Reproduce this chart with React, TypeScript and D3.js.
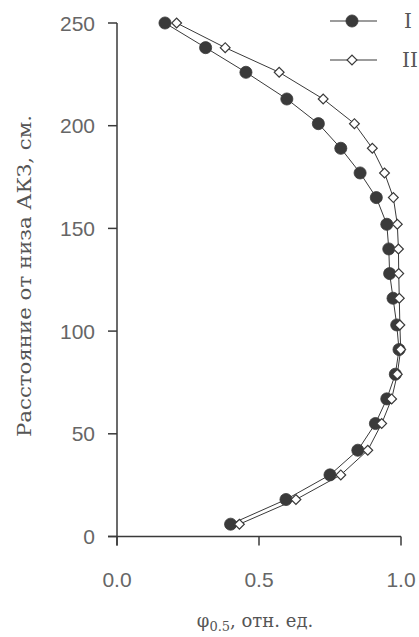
import React from "react";
import * as d3 from "d3";

const heights = [6, 18, 30, 42, 55, 67, 79, 91, 103, 116, 128, 140, 152, 165, 177, 189, 201, 213, 226, 238, 250];
const seriesI = [0.4, 0.595, 0.75, 0.848, 0.91, 0.95, 0.98, 0.993, 0.985, 0.972, 0.96, 0.957, 0.95, 0.913, 0.856, 0.788, 0.709, 0.598, 0.454, 0.312, 0.169];
const seriesII = [0.431, 0.63, 0.788, 0.883, 0.932, 0.967, 0.987, 0.999, 0.996, 0.994, 0.992, 0.991, 0.987, 0.973, 0.942, 0.899, 0.836, 0.726, 0.571, 0.381, 0.21];
const xTicks = [0, 0.5, 1.0];
const yTicks = [0, 50, 100, 150, 200, 250];
const legendLabels = ["I", "II"];
const yTitle = "Расстояние от низа АКЗ, см.";

const W = 419;
const H = 637;
const ink = "#3a3a3a";
const tickFont = "'Liberation Sans', Arial, sans-serif";
const titleFont = "'DejaVu Serif', 'Liberation Serif', serif";

export default function App() {
  const x = d3.scaleLinear().domain([0, 1]).range([117, 401]);
  const y = d3.scaleLinear().domain([0, 250]).range([536.5, 23]);
  const line = d3
    .line<[number, number]>()
    .x((d) => x(d[0]))
    .y((d) => y(d[1]));
  const dI: [number, number][] = seriesI.map((v, i) => [v, heights[i]]);
  const dII: [number, number][] = seriesII.map((v, i) => [v, heights[i]]);
  const circle = d3.symbol().type(d3.symbolCircle).size(115)() as string;
  const square = d3.symbol().type(d3.symbolSquare).size(48)() as string;

  const markerI = (cx: number, cy: number, k: string) => (
    <path key={k} d={circle} transform={`translate(${cx},${cy})`} fill={ink} stroke={ink} strokeWidth={0.8} />
  );
  const markerII = (cx: number, cy: number, k: string) => (
    <path key={k} d={square} transform={`translate(${cx},${cy}) rotate(45)`} fill="#fff" stroke={ink} strokeWidth={1.2} />
  );

  const legendY = [21, 60];

  return (
    <svg
      width={W}
      height={H}
      style={{ position: "fixed", left: 0, top: 0, background: "#fff" }}
      xmlns="http://www.w3.org/2000/svg"
    >
      <rect x={0} y={0} width={W} height={H} fill="#fff" />
      <line x1={x(0)} x2={x(0)} y1={y(250)} y2={y(0) + 9} stroke={ink} strokeWidth={1.5} />
      <line x1={x(0) - 9} x2={x(1)} y1={y(0)} y2={y(0)} stroke={ink} strokeWidth={1.5} />
      {yTicks.map((t) => (
        <g key={"y" + t}>
          <line x1={x(0) - 9} x2={x(0)} y1={y(t)} y2={y(t)} stroke={ink} strokeWidth={1.5} />
          <text x={95} y={y(t)} dy="0.36em" textAnchor="end" fontFamily={tickFont} fontSize={21} fill="#666">
            {t}
          </text>
        </g>
      ))}
      {xTicks.map((t) => (
        <g key={"x" + t}>
          <line x1={x(t)} x2={x(t)} y1={y(0)} y2={y(0) + 9} stroke={ink} strokeWidth={1.5} />
          <text x={x(t)} y={587} textAnchor="middle" fontFamily={tickFont} fontSize={21} fill="#666">
            {d3.format(".1f")(t)}
          </text>
        </g>
      ))}
      <text
        transform={`translate(31,276) rotate(-90)`}
        textAnchor="middle"
        fontFamily={titleFont}
        fontSize={19}
        fill="#555"
        textLength={322}
        lengthAdjust="spacingAndGlyphs"
      >
        {yTitle}
      </text>
      <text x={255} y={627} textAnchor="middle" fontFamily={titleFont} fontSize={18} fill="#555">
        <tspan>φ</tspan>
        <tspan fontSize={13} dy={4}>0.5</tspan>
        <tspan dy={-4}>, отн. ед.</tspan>
      </text>
      <path d={line(dII) as string} fill="none" stroke={ink} strokeWidth={1} />
      <path d={line(dI) as string} fill="none" stroke={ink} strokeWidth={1} />
      {dI.map((d, i) => markerI(x(d[0]), y(d[1]), "i" + i))}
      {dII.map((d, i) => markerII(x(d[0]), y(d[1]), "ii" + i))}
      {legendLabels.map((lab, i) => (
        <g key={lab}>
          <line x1={330} x2={377} y1={legendY[i]} y2={legendY[i]} stroke={ink} strokeWidth={1.2} />
          {i === 0 ? markerI(352, legendY[i], "lm" + i) : markerII(352, legendY[i], "lm" + i)}
          <text x={i === 0 ? 404 : 402} y={legendY[i]} dy="0.36em" fontFamily={titleFont} fontSize={20} fill="#555">
            {lab}
          </text>
        </g>
      ))}
    </svg>
  );
}
